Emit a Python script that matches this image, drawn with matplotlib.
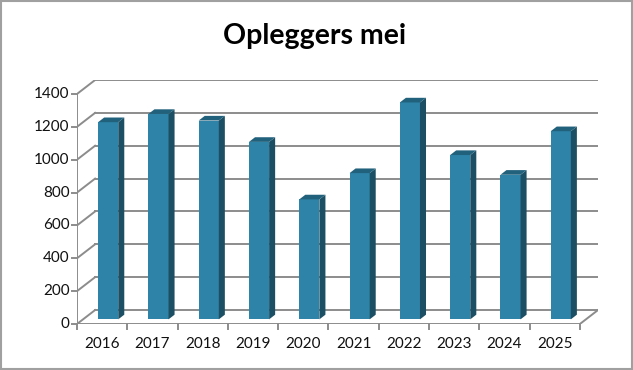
import matplotlib.pyplot as plt
from matplotlib.patches import Polygon, Rectangle

years = ["2016", "2017", "2018", "2019", "2020", "2021", "2022", "2023", "2024", "2025"]
values = [1200, 1250, 1210, 1080, 730, 890, 1320, 1000, 880, 1145]
yticks = [0, 200, 400, 600, 800, 1000, 1200, 1400]

front_c = "#2E83A8"
side_c = "#1C4F63"
top_c = "#22617C"
grid_c = "#8C8C8C"

n = len(years)
DX, DY = 0.36, 85  # full depth offset in data units
ymax = yticks[-1]

fig = plt.figure(figsize=(6.33, 3.70), dpi=100)
ax = fig.add_axes([77 / 633, 46 / 370, 521 / 633, 244 / 370])
ax.set_xlim(-0.5, n - 0.5 + DX)
ax.set_ylim(0, ymax + DY)
ax.axis("off")

x0, x1 = -0.5, n - 0.5

# back wall grid + left wall diagonals
for v in yticks:
    ax.plot([x0 + DX, x1 + DX], [v + DY, v + DY], color=grid_c, lw=1.4, zorder=1)
    ax.plot([x0, x0 + DX], [v, v + DY], color=grid_c, lw=1.4, zorder=1)
    ax.plot([x0 - 0.09, x0], [v, v], color=grid_c, lw=1.4, clip_on=False, zorder=1)
    ax.text(x0 - 0.15, v, str(v), ha="right", va="center", fontsize=11,
            family="Lato", color="#111111")

# left axis line and floor
ax.plot([x0, x0], [0, ymax], color=grid_c, lw=1.4, zorder=1)
ax.plot([x0, x1], [0, 0], color=grid_c, lw=1.4, zorder=1)
ax.plot([x1, x1 + DX], [0, DY], color=grid_c, lw=1.4, zorder=1)

# x ticks and labels
for i in range(n + 1):
    ax.plot([x0 + i, x0 + i], [0, -32], color=grid_c, lw=1.4, clip_on=False)
for i, yr in enumerate(years):
    ax.text(i, -80, yr, ha="center", va="top", fontsize=11, family="Lato",
            color="#111111")

# pseudo-3D bars
w = 0.4
d0, d1 = 1 / 3, 2 / 3
for i, v in enumerate(values):
    bx = i - w / 2 + d0 * DX
    by = d0 * DY
    ddx = (d1 - d0) * DX
    ddy = (d1 - d0) * DY
    ax.add_patch(Rectangle((bx, by), w, v, facecolor=front_c, edgecolor="none", zorder=3))
    ax.add_patch(Polygon([(bx + w, by), (bx + w + ddx, by + ddy),
                          (bx + w + ddx, by + v + ddy), (bx + w, by + v)],
                         closed=True, facecolor=side_c, edgecolor="none", zorder=3))
    ax.add_patch(Polygon([(bx, by + v), (bx + w, by + v),
                          (bx + w + ddx, by + v + ddy), (bx + ddx, by + v + ddy)],
                         closed=True, facecolor=top_c, edgecolor="none", zorder=3))

fig.text(315 / 633, 1 - 36 / 370, "Opleggers mei", ha="center", va="center",
         fontsize=20.5, fontweight="bold", family="Lato")

fig.patches.append(Rectangle((0.0015, 0.0025), 0.997, 0.995, transform=fig.transFigure,
                             fill=False, edgecolor="#A0A0A0", lw=1.5))

fig.savefig("out.png", dpi=100)
